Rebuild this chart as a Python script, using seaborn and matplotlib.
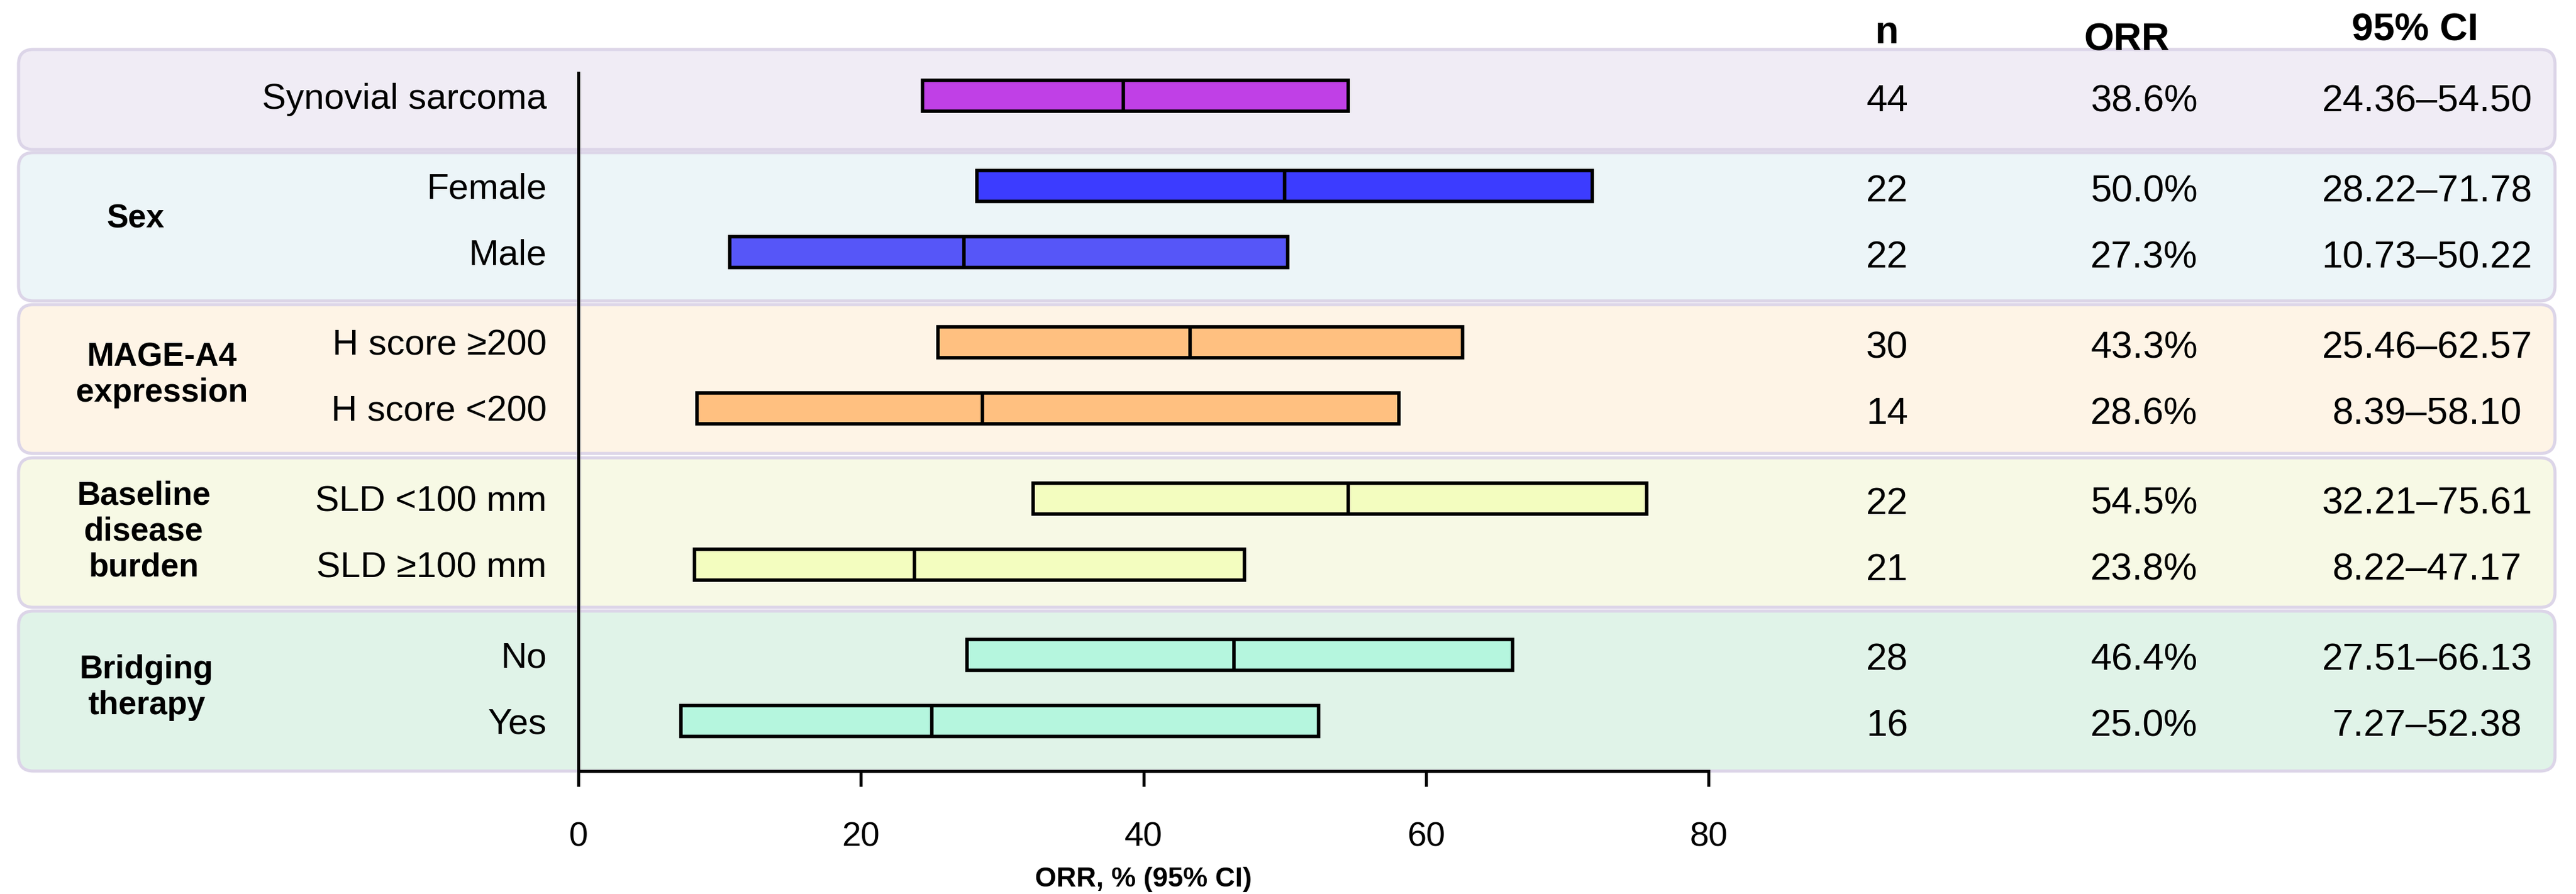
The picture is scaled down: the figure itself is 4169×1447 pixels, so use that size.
import matplotlib
matplotlib.use("Agg")
import matplotlib.pyplot as plt
import matplotlib.transforms as mtransforms
from matplotlib.patches import FancyBboxPatch
import numpy as np
import pandas as pd
import seaborn as sns

# data
subgroups = ["Synovial sarcoma", "Female", "Male", "H score ≥200", "H score <200",
             "SLD <100 mm", "SLD ≥100 mm", "No", "Yes"]
group_of_row = [0, 1, 1, 2, 2, 3, 3, 4, 4]
group_names = ["", "Sex", "MAGE-A4\nexpression", "Baseline\ndisease\nburden", "Bridging\ntherapy"]
n_pts = [44, 22, 22, 30, 14, 22, 21, 28, 16]
orr = [38.6, 50.0, 27.3, 43.3, 28.6, 54.5, 23.8, 46.4, 25.0]
ci_low = [24.36, 28.22, 10.73, 25.46, 8.39, 32.21, 8.22, 27.51, 7.27]
ci_high = [54.50, 71.78, 50.22, 62.57, 58.10, 75.61, 47.17, 66.13, 52.38]

bar_colors = ["#C040E6", "#3C3CFF", "#5656F8", "#FFC080", "#FFC080",
              "#F3FDBF", "#F3FDBF", "#B5F6DE", "#B5F6DE"]
panel_colors = ["#F0ECF5", "#ECF5F8", "#FEF4E6", "#F7F9E5", "#E0F3E8"]
panel_edge = "#DCD5E8"

sns.set_theme(style="white")
plt.rcParams["font.family"] = ["Liberation Sans", "DejaVu Sans"]
plt.rcParams["text.color"] = "black"
plt.rcParams["xtick.color"] = "black"
plt.rcParams["ytick.color"] = "black"
plt.rcParams["axes.labelcolor"] = "black"

df = pd.DataFrame({"label": subgroups, "group": group_of_row, "n": n_pts,
                   "orr": orr, "lo": ci_low, "hi": ci_high})
# extra gap between subgroup blocks
df["y"] = np.arange(len(df)) + 0.364 * df["group"]

W, H = 4169, 1447
fig = plt.figure(figsize=(W / 100, H / 100), dpi=100)

# background panels, drawn in pixel coordinates
bg = fig.add_axes([0, 0, 1, 1], zorder=0)
bg.set_xlim(0, W)
bg.set_ylim(H, 0)
bg.axis("off")
panel_rows = [(80, 242), (247, 487), (493, 734), (741, 983), (989, 1248)]
r = 24
for (y0, y1), col in zip(panel_rows, panel_colors):
    bg.add_patch(FancyBboxPatch((30 + r, y0 + r), W - 34 - 30 - 2 * r, y1 - y0 - 2 * r,
                                boxstyle=f"round,pad={r}", facecolor=col,
                                edgecolor=panel_edge, linewidth=3.6))

ax = fig.add_axes([936 / W, 1 - 1248 / H, (2765 - 936) / W, (1248 - 118) / H], zorder=1)
ax.patch.set_alpha(0)

ax.barh(df["y"], df["hi"] - df["lo"], left=df["lo"], height=0.47,
        color=bar_colors, edgecolor="black", linewidth=4, zorder=2)
sns.scatterplot(data=df, x="orr", y="y", marker="|", s=1460, color="black",
                linewidth=4, ax=ax, zorder=3, legend=False)

ax.set_xlim(0, 80)
ax.set_ylim(10.215, -0.346)
ax.set_xticks([0, 20, 40, 60, 80])
ax.set_yticks(df["y"], df["label"])
ax.tick_params(axis="y", length=0, pad=37, labelsize=42)
ax.tick_params(axis="x", bottom=True, length=18, width=3.5, pad=41,
               labelsize=40, direction="out", color="black")
for s in ["top", "right"]:
    ax.spines[s].set_visible(False)
for s in ["left", "bottom"]:
    ax.spines[s].set_linewidth(3.6)
    ax.spines[s].set_color("black")
ax.set_ylabel("")
ax.set_xlabel("ORR, % (95% CI)", fontsize=32, fontweight="bold", labelpad=15)

# table columns on the right
trans = mtransforms.blended_transform_factory(fig.transFigure, ax.transData)
for _, row in df.iterrows():
    yy = row["y"] + 0.09
    ax.text(3054 / W, yy, f"{row['n']}", transform=trans, ha="center", va="center", fontsize=44)
    ax.text(3470 / W, yy, f"{row['orr']:.1f}%", transform=trans, ha="center", va="center", fontsize=44)
    ax.text(3928 / W, yy, f"{row['lo']:.2f}–{row['hi']:.2f}", transform=trans,
            ha="center", va="center", fontsize=44)

fig.text(3054 / W, 1 - 70 / H, "n", ha="center", va="baseline", fontsize=45, fontweight="bold")
fig.text(3442 / W, 1 - 82 / H, "ORR", ha="center", va="baseline", fontsize=45, fontweight="bold")
fig.text(3908 / W, 1 - 65 / H, "95% CI", ha="center", va="baseline", fontsize=45, fontweight="bold")

# group labels on the left
group_x = [0, 219, 262, 233, 237]
for g, name in enumerate(group_names):
    if not name:
        continue
    yc = df.loc[df["group"] == g, "y"].mean()
    ax.text(group_x[g] / W, yc, name, transform=trans, ha="center", va="center",
            fontsize=38, fontweight="bold", multialignment="center")

fig.savefig("out.png", dpi=100)
